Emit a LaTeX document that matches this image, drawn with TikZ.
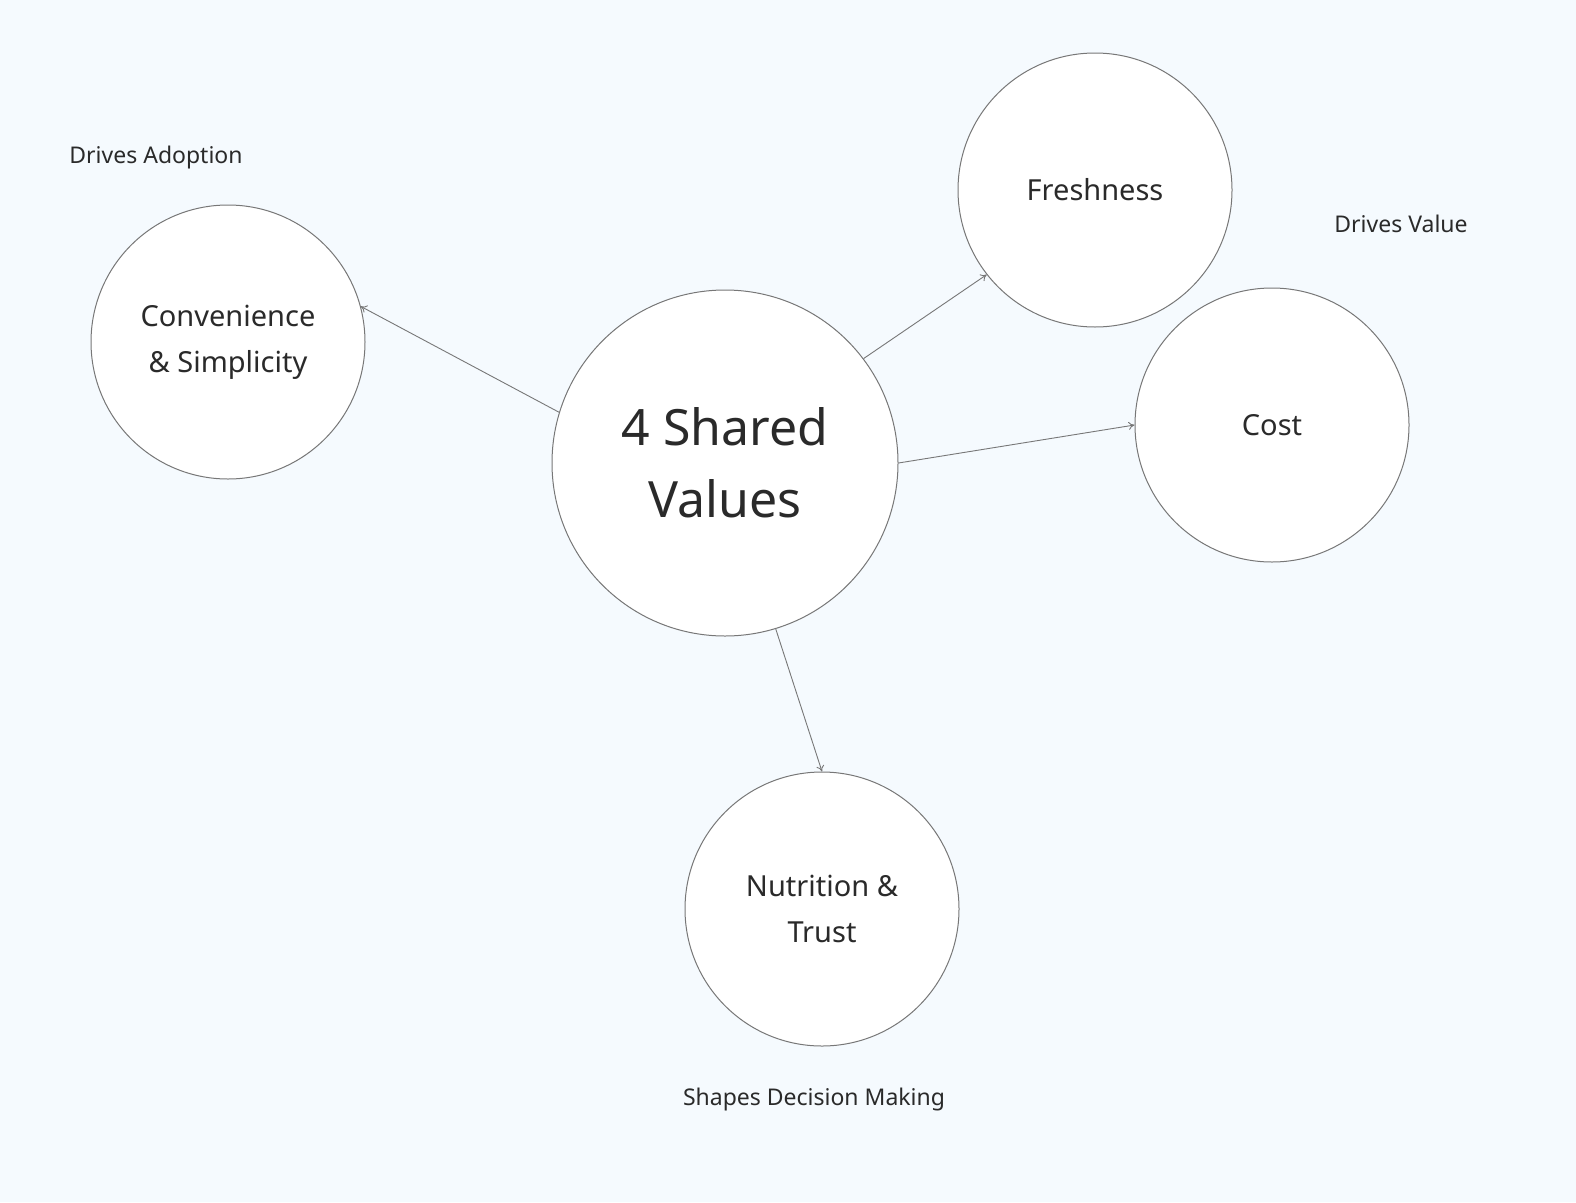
\documentclass[tikz,border=0pt]{standalone}
\usepackage{fontspec}
\usetikzlibrary{arrows.meta}
\setmainfont{Noto Sans}
\definecolor{bg}{HTML}{F5FAFE}
\definecolor{tx}{HTML}{2A2A2A}
\definecolor{ln}{HTML}{777777}
\begin{document}
\begin{tikzpicture}[x=1pt,y=-1pt,
  bub/.style={circle,draw=ln,fill=white,line width=1pt,text=tx,align=center,inner sep=0pt},
  small/.style={bub,minimum size=274pt,font=\fontsize{29}{46}\selectfont},
  lbl/.style={text=tx,font=\fontsize{23}{28}\selectfont,inner sep=0pt},
  arr/.style={draw=ln,line width=0.9pt,-{To[length=6pt,width=8pt]}}]
\fill[bg] (0,0) rectangle (1576,1202);
\useasboundingbox (0,0) rectangle (1576,1202);
\node[bub,minimum size=346pt,font=\fontsize{50}{72}\selectfont] (c) at (725,463) {4 Shared\\ Values};
\node[small] (cv) at (228,342) {Convenience\\ \& Simplicity};
\node[small] (fr) at (1095,190) {Freshness};
\node[small] (co) at (1272,425) {Cost};
\node[small] (nu) at (822,909) {Nutrition \&\\ Trust};
\node[lbl] (l1) at (156,158) {Drives \textbf{Adoption}};
\node[lbl] (l2) at (1401,224) {Drives \textbf{Value}};
\node[lbl] (l3) at (814,1100) {Shapes \textbf{Decision} Making};
\draw[arr] (c.163) -- (cv.15);
\draw[arr] (c.37.5) -- (fr.218.5);
\draw[arr] (c.0) -- (co.180);
\draw[arr] (c.-73) -- (nu.90);
\end{tikzpicture}
\end{document}
